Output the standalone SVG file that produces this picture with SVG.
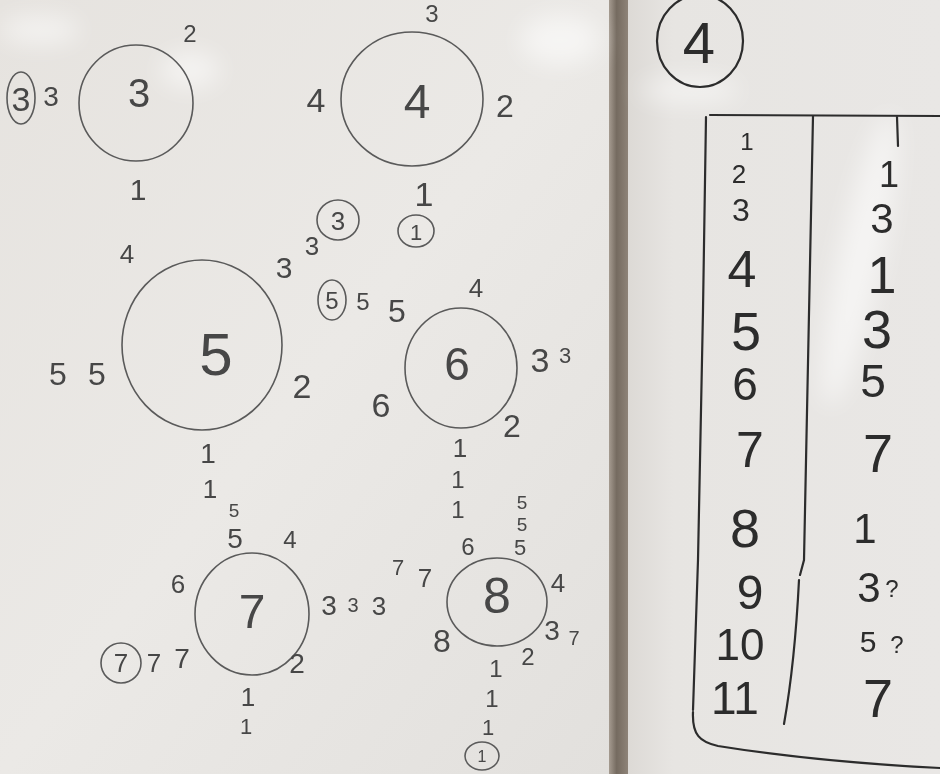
<svg xmlns="http://www.w3.org/2000/svg" width="940" height="774" viewBox="0 0 940 774">
<defs>
<style>
.t{fill:#474747;font-family:"Liberation Sans",Arial,sans-serif;text-anchor:middle}
.r{fill:none;stroke:#5a5a5a;stroke-width:1.6}
.d{fill:#2c2c2c;font-family:"Liberation Sans",Arial,sans-serif;text-anchor:middle}
.dl{fill:none;stroke:#2c2c2c;stroke-width:2.2;stroke-linecap:round}
</style>
<linearGradient id="lb" x1="0" y1="0" x2="1" y2="1">
<stop offset="0" stop-color="#e6e3df"/>
<stop offset="0.5" stop-color="#ebe9e6"/>
<stop offset="1" stop-color="#e2e0dd"/>
</linearGradient>
<linearGradient id="rb" x1="0" y1="0" x2="1" y2="0">
<stop offset="0" stop-color="#dcd9d5"/>
<stop offset="0.15" stop-color="#e7e5e2"/>
<stop offset="1" stop-color="#e9e7e5"/>
</linearGradient>
<linearGradient id="dv" x1="0" y1="0" x2="1" y2="0">
<stop offset="0" stop-color="#a59b90"/>
<stop offset="0.4" stop-color="#756b60"/>
<stop offset="1" stop-color="#8e8378"/>
</linearGradient>
<filter id="bl" x="-50%" y="-50%" width="200%" height="200%"><feGaussianBlur stdDeviation="12"/></filter>
</defs>

<g id="background">
<rect x="0" y="0" width="612" height="774" fill="url(#lb)"/>
<rect x="626" y="0" width="314" height="774" fill="url(#rb)"/>
<rect x="609" y="0" width="19" height="774" fill="url(#dv)"/>
<g filter="url(#bl)" fill="#ffffff" opacity="0.55">
<ellipse cx="40" cy="30" rx="40" ry="14"/>
<ellipse cx="190" cy="70" rx="30" ry="18"/>
<ellipse cx="560" cy="40" rx="40" ry="25"/>
<ellipse cx="690" cy="90" rx="50" ry="12"/>
<ellipse cx="860" cy="260" rx="22" ry="150" transform="rotate(12 860 260)"/>
</g>
</g>

<g id="node-3">
<ellipse class="r" cx="136" cy="103" rx="57" ry="58"/>
<text class="t" x="139" y="107" font-size="40">3</text>
<text class="t" x="190" y="42" font-size="24">2</text>
<ellipse class="r" cx="21" cy="98" rx="14" ry="26"/>
<text class="t" x="21" y="111" font-size="34">3</text>
<text class="t" x="51" y="106" font-size="28">3</text>
<text class="t" x="138" y="200" font-size="30">1</text>
</g>

<g id="node-4">
<ellipse class="r" cx="412" cy="99" rx="71" ry="67"/>
<text class="t" x="432" y="22" font-size="24">3</text>
<text class="t" x="417" y="118" font-size="48">4</text>
<text class="t" x="316" y="112" font-size="34">4</text>
<text class="t" x="505" y="117" font-size="32">2</text>
<text class="t" x="424" y="206" font-size="34">1</text>
<ellipse class="r" cx="416" cy="231" rx="18" ry="16"/>
<text class="t" x="416" y="240" font-size="22">1</text>
<ellipse class="r" cx="338" cy="220" rx="21" ry="20"/>
<text class="t" x="338" y="230" font-size="26">3</text>
</g>

<g id="node-5">
<ellipse class="r" cx="202" cy="345" rx="80" ry="85"/>
<text class="t" x="127" y="263" font-size="26">4</text>
<text class="t" x="284" y="278" font-size="30">3</text>
<text class="t" x="312" y="255" font-size="26">3</text>
<text class="t" x="216" y="375" font-size="60">5</text>
<text class="t" x="58" y="385" font-size="32">5</text>
<text class="t" x="97" y="385" font-size="32">5</text>
<text class="t" x="302" y="398" font-size="34">2</text>
<text class="t" x="208" y="463" font-size="28">1</text>
<text class="t" x="210" y="498" font-size="26">1</text>
</g>

<g id="node-6">
<ellipse class="r" cx="461" cy="368" rx="56" ry="60"/>
<ellipse class="r" cx="332" cy="300" rx="14" ry="20"/>
<text class="t" x="332" y="309" font-size="24">5</text>
<text class="t" x="363" y="310" font-size="24">5</text>
<text class="t" x="397" y="322" font-size="32">5</text>
<text class="t" x="476" y="297" font-size="26">4</text>
<text class="t" x="457" y="380" font-size="46">6</text>
<text class="t" x="540" y="372" font-size="34">3</text>
<text class="t" x="565" y="363" font-size="22">3</text>
<text class="t" x="381" y="417" font-size="34">6</text>
<text class="t" x="512" y="437" font-size="32">2</text>
<text class="t" x="460" y="457" font-size="26">1</text>
<text class="t" x="458" y="488" font-size="24">1</text>
<text class="t" x="458" y="518" font-size="24">1</text>
</g>

<g id="node-7">
<ellipse class="r" cx="252" cy="614" rx="57" ry="61"/>
<text class="t" x="234" y="517" font-size="19">5</text>
<text class="t" x="235" y="548" font-size="28">5</text>
<text class="t" x="290" y="548" font-size="24">4</text>
<text class="t" x="178" y="593" font-size="26">6</text>
<text class="t" x="252" y="628" font-size="48">7</text>
<text class="t" x="329" y="615" font-size="28">3</text>
<text class="t" x="353" y="612" font-size="20">3</text>
<text class="t" x="379" y="615" font-size="26">3</text>
<circle class="r" cx="121" cy="663" r="20"/>
<text class="t" x="121" y="672" font-size="26">7</text>
<text class="t" x="154" y="672" font-size="26">7</text>
<text class="t" x="182" y="668" font-size="28">7</text>
<text class="t" x="297" y="673" font-size="28">2</text>
<text class="t" x="248" y="706" font-size="26">1</text>
<text class="t" x="246" y="734" font-size="22">1</text>
</g>

<g id="node-8">
<ellipse class="r" cx="497" cy="602" rx="50" ry="44"/>
<text class="t" x="522" y="509" font-size="19">5</text>
<text class="t" x="522" y="531" font-size="19">5</text>
<text class="t" x="520" y="555" font-size="22">5</text>
<text class="t" x="468" y="555" font-size="24">6</text>
<text class="t" x="398" y="575" font-size="22">7</text>
<text class="t" x="425" y="587" font-size="26">7</text>
<text class="t" x="558" y="592" font-size="26">4</text>
<text class="t" x="497" y="613" font-size="50">8</text>
<text class="t" x="442" y="652" font-size="32">8</text>
<text class="t" x="552" y="640" font-size="28">3</text>
<text class="t" x="574" y="645" font-size="20">7</text>
<text class="t" x="528" y="665" font-size="24">2</text>
<text class="t" x="496" y="677" font-size="24">1</text>
<text class="t" x="492" y="707" font-size="24">1</text>
<text class="t" x="488" y="735" font-size="22">1</text>
<ellipse class="r" cx="482" cy="756" rx="17" ry="14"/>
<text class="t" x="482" y="762" font-size="16">1</text>
</g>

<g id="connectors"></g>

<g id="table">
<ellipse class="dl" cx="700" cy="41" rx="43" ry="46"/>
<text class="d" x="699" y="63" font-size="58">4</text>
<path class="dl" d="M710 115 L940 116"/>
<path class="dl" d="M706 117 C704 250 701 450 698 560 C696 620 694 680 693 710"/>
<path class="dl" d="M693 712 C692 735 700 742 718 746 C780 756 860 764 940 768"/>
<path class="dl" d="M813 116 C811 250 808 400 804 560 L800 575 M799 580 C796 640 790 690 784 724"/>
<path class="dl" d="M897 117 L898 146"/>
<text class="d" x="747" y="150" font-size="24">1</text>
<text class="d" x="739" y="183" font-size="26">2</text>
<text class="d" x="741" y="221" font-size="32">3</text>
<text class="d" x="742" y="287" font-size="52">4</text>
<text class="d" x="746" y="350" font-size="54">5</text>
<text class="d" x="745" y="400" font-size="46">6</text>
<text class="d" x="750" y="467" font-size="50">7</text>
<text class="d" x="745" y="547" font-size="54">8</text>
<text class="d" x="750" y="609" font-size="48">9</text>
<text class="d" x="740" y="660" font-size="44">10</text>
<text class="d" x="735" y="714" font-size="46">11</text>
<text class="d" x="889" y="187" font-size="36">1</text>
<text class="d" x="882" y="233" font-size="42">3</text>
<text class="d" x="882" y="293" font-size="52">1</text>
<text class="d" x="877" y="348" font-size="54">3</text>
<text class="d" x="873" y="397" font-size="46">5</text>
<text class="d" x="878" y="472" font-size="54">7</text>
<text class="d" x="865" y="543" font-size="42">1</text>
<text class="d" x="869" y="602" font-size="42">3</text>
<text class="d" x="892" y="597" font-size="24">?</text>
<text class="d" x="868" y="652" font-size="30">5</text>
<text class="d" x="897" y="653" font-size="24">?</text>
<text class="d" x="878" y="717" font-size="54">7</text>
</g>
</svg>
